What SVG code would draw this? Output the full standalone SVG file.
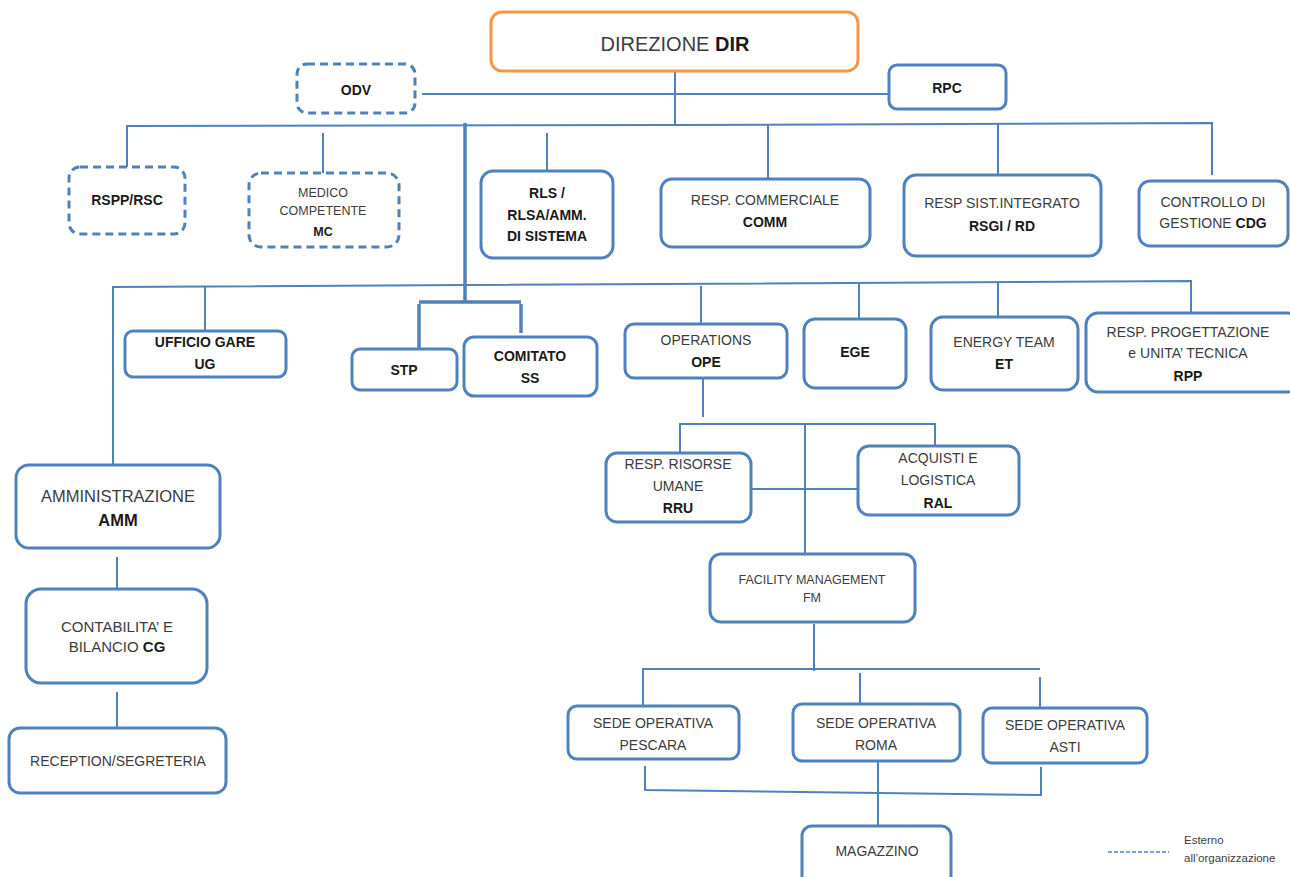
<svg xmlns="http://www.w3.org/2000/svg" width="1290" height="877" viewBox="0 0 1290 877">
<style>
.box{fill:#fff;stroke:#4F81BD;stroke-width:3}
.ext{stroke-dasharray:8 5}
.dir{fill:#fff;stroke:#F79646;stroke-width:3}
.t{font-family:"Liberation Sans",Arial,sans-serif;font-size:14px;fill:#3c3c3c;text-anchor:middle}
.s{font-size:12.5px}
.b{font-weight:bold;fill:#1a1a1a}
.ln{stroke:#4F81BD;stroke-width:2;fill:none}
.tk{stroke-width:3.5}
.lg{font-family:"Liberation Sans",Arial,sans-serif;font-size:11.5px;fill:#3c3c3c}
</style>
<rect width="1290" height="877" fill="#fff"/>
<g id="connectors">
<line class="ln" x1="422" y1="94" x2="889" y2="94"/>
<line class="ln" x1="675" y1="72" x2="675" y2="125"/>
<polyline class="ln" points="127,173 127,126 675,125 1212,123 1212,175"/>
<line class="ln" x1="323" y1="133" x2="323" y2="173"/>
<line class="ln" x1="547" y1="133" x2="547" y2="171"/>
<line class="ln" x1="768" y1="125" x2="768" y2="179"/>
<line class="ln" x1="998" y1="124" x2="998" y2="175"/>
<line class="ln tk" x1="465" y1="123" x2="465" y2="302"/>
<polyline class="ln" points="113,466 113,287 1191,281 1191,313"/>
<line class="ln" x1="205" y1="287" x2="205" y2="331"/>
<line class="ln tk" x1="419" y1="302" x2="521" y2="302"/>
<line class="ln tk" x1="419" y1="304" x2="419" y2="349"/>
<line class="ln tk" x1="521" y1="304" x2="521" y2="333"/>
<line class="ln" x1="701" y1="286" x2="701" y2="324"/>
<line class="ln" x1="859" y1="284" x2="859" y2="319"/>
<line class="ln" x1="998" y1="282" x2="998" y2="317"/>
<line class="ln" x1="703" y1="379" x2="703" y2="417"/>
<polyline class="ln" points="680,455 680,424 935,424 935,446"/>
<line class="ln" x1="805" y1="424" x2="805" y2="554"/>
<line class="ln" x1="751" y1="489" x2="858" y2="489"/>
<line class="ln" x1="117" y1="557" x2="117" y2="589"/>
<line class="ln" x1="117" y1="692" x2="117" y2="728"/>
<line class="ln" x1="814" y1="624" x2="814" y2="671"/>
<polyline class="ln" points="643,706 643,669 1040,669"/>
<line class="ln" x1="860" y1="673" x2="860" y2="704"/>
<line class="ln" x1="1040" y1="677" x2="1040" y2="708"/>
<polyline class="ln" points="645,766 645,790 1041,795 1041,767"/>
<line class="ln" x1="878" y1="762" x2="878" y2="826"/>
</g>
<g id="dir"><rect class="dir" x="491" y="12" width="367" height="59" rx="11"/><text class="t" x="675" y="51" style="font-size:20px">DIREZIONE <tspan class="b">DIR</tspan></text></g>
<g id="odv"><rect class="box ext" x="297" y="64" width="118" height="49" rx="10"/><text class="t b" x="356" y="95">ODV</text></g>
<g id="rpc"><rect class="box" x="889" y="65" width="117" height="44" rx="8"/><text class="t b" x="947" y="93">RPC</text></g>
<g id="rspp"><rect class="box ext" x="69" y="167" width="116" height="67" rx="11"/><text class="t b" x="127" y="205">RSPP/RSC</text></g>
<g id="mc"><rect class="box ext" x="249" y="173" width="150" height="74" rx="12"/><text class="t s" x="323" y="196.5">MEDICO</text><text class="t s" x="323" y="214.5">COMPETENTE</text><text class="t s b" x="323" y="235.5">MC</text></g>
<g id="rls"><rect class="box" x="481" y="171" width="132" height="87" rx="12"/><text class="t b" x="547" y="198">RLS /</text><text class="t b" x="547" y="220">RLSA/AMM.</text><text class="t b" x="547" y="241">DI SISTEMA</text></g>
<g id="comm"><rect class="box" x="661" y="179" width="209" height="68" rx="11"/><text class="t" x="765" y="205">RESP. COMMERCIALE</text><text class="t b" x="765" y="227">COMM</text></g>
<g id="rsgi"><rect class="box" x="904" y="175" width="197" height="81" rx="12"/><text class="t" x="1002" y="208">RESP SIST.INTEGRATO</text><text class="t b" x="1002" y="231">RSGI / RD</text></g>
<g id="cdg"><rect class="box" x="1139" y="181" width="149" height="65" rx="11"/><text class="t" x="1213" y="207">CONTROLLO DI</text><text class="t" x="1213" y="228">GESTIONE <tspan class="b">CDG</tspan></text></g>
<g id="ug"><rect class="box" x="125" y="331" width="161" height="46" rx="8"/><text class="t b" x="205" y="347">UFFICIO GARE</text><text class="t b" x="205" y="369">UG</text></g>
<g id="stp"><rect class="box" x="352" y="349" width="105" height="41" rx="8"/><text class="t b" x="404" y="375">STP</text></g>
<g id="ss"><rect class="box" x="464" y="337" width="133" height="59" rx="10"/><text class="t b" x="530" y="361">COMITATO</text><text class="t b" x="530" y="383">SS</text></g>
<g id="ope"><rect class="box" x="625" y="324" width="162" height="54" rx="9"/><text class="t" x="706" y="345">OPERATIONS</text><text class="t b" x="706" y="367">OPE</text></g>
<g id="ege"><rect class="box" x="804" y="319" width="102" height="69" rx="11"/><text class="t b" x="855" y="357">EGE</text></g>
<g id="et"><rect class="box" x="931" y="317" width="147" height="73" rx="12"/><text class="t" x="1004" y="347">ENERGY TEAM</text><text class="t b" x="1004" y="369">ET</text></g>
<g id="rpp"><rect class="box" x="1086" y="313" width="214" height="79" rx="12"/><text class="t" x="1188" y="337">RESP. PROGETTAZIONE</text><text class="t" x="1188" y="358">e UNITA’ TECNICA</text><text class="t b" x="1188" y="381">RPP</text></g>
<g id="rru"><rect class="box" x="606" y="453" width="145" height="69" rx="11"/><text class="t" x="678" y="469">RESP. RISORSE</text><text class="t" x="678" y="491">UMANE</text><text class="t b" x="678" y="513">RRU</text></g>
<g id="ral"><rect class="box" x="858" y="446" width="161" height="69" rx="11"/><text class="t" x="938" y="463">ACQUISTI E</text><text class="t" x="938" y="485">LOGISTICA</text><text class="t b" x="938" y="508">RAL</text></g>
<g id="amm"><rect class="box" x="16" y="465" width="204" height="83" rx="13"/><text class="t" x="118" y="502" style="font-size:16.5px">AMMINISTRAZIONE</text><text class="t b" x="118" y="526" style="font-size:16.5px">AMM</text></g>
<g id="cg"><rect class="box" x="26" y="589" width="181" height="94" rx="15"/><text class="t" x="117" y="632" style="font-size:15px">CONTABILITA’ E</text><text class="t" x="117" y="652" style="font-size:15px">BILANCIO <tspan class="b">CG</tspan></text></g>
<g id="reception"><rect class="box" x="9" y="728" width="217" height="65" rx="11"/><text class="t" x="118" y="766">RECEPTION/SEGRETERIA</text></g>
<g id="fm"><rect class="box" x="710" y="554" width="205" height="68" rx="11"/><text class="t s" x="812" y="583.5">FACILITY MANAGEMENT</text><text class="t s" x="812" y="601.5">FM</text></g>
<g id="pescara"><rect class="box" x="568" y="706" width="171" height="53" rx="9"/><text class="t" x="653" y="728">SEDE OPERATIVA</text><text class="t" x="653" y="750">PESCARA</text></g>
<g id="roma"><rect class="box" x="793" y="704" width="167" height="57" rx="9"/><text class="t" x="876" y="728">SEDE OPERATIVA</text><text class="t" x="876" y="750">ROMA</text></g>
<g id="asti"><rect class="box" x="983" y="708" width="164" height="55" rx="9"/><text class="t" x="1065" y="730">SEDE OPERATIVA</text><text class="t" x="1065" y="752">ASTI</text></g>
<g id="magazzino"><rect class="box" x="802" y="826" width="149" height="64" rx="10"/><text class="t" x="877" y="856">MAGAZZINO</text></g>
<g id="legend"><line class="ln" x1="1108" y1="852" x2="1169" y2="852" style="stroke-width:1.5;stroke-dasharray:4 2"/><text class="lg" x="1184" y="844">Esterno</text><text class="lg" x="1184" y="862">all’organizzazione</text></g>
</svg>
